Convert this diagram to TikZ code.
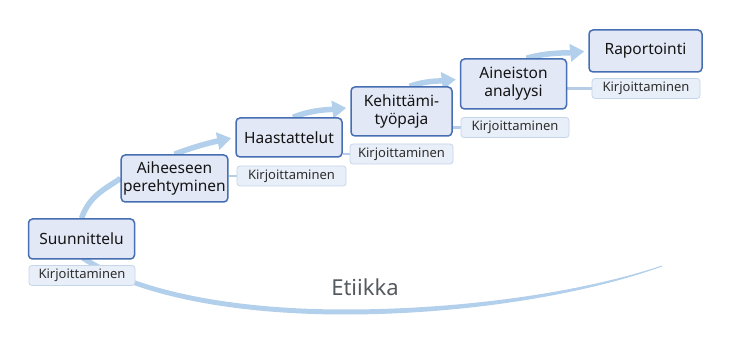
\documentclass[tikz,border=0pt]{standalone}
\usepackage{fontspec}
\setmainfont{Noto Sans}
\usetikzlibrary{arrows.meta,backgrounds}
\definecolor{boxfill}{RGB}{226,232,245}
\definecolor{boxline}{RGB}{70,110,178}
\definecolor{tagfill}{RGB}{233,239,248}
\definecolor{tagline}{RGB}{197,213,234}
\definecolor{linkcol}{RGB}{182,204,231}
\definecolor{flow}{RGB}{178,207,235}
\definecolor{ethic}{RGB}{85,90,96}

\begin{document}
\begin{tikzpicture}[x=1pt,y=-1pt,
	phase/.style={draw=boxline, fill=boxfill, line width=1.5pt, rounded corners=4pt, align=center, font=\fontsize{15.5}{18}\selectfont, text=black!92, inner sep=2pt, minimum width=106pt},
	writing/.style={draw=tagline, fill=tagfill, line width=0.8pt, rounded corners=3pt, font=\fontsize{13}{15}\selectfont, text=black!82, inner sep=1pt, minimum width=106pt, minimum height=20pt},
	flowline/.style={draw=flow, line width=5.5pt},
	flowarrow/.style={flowline, -{Triangle[length=14pt,width=17pt]}, shorten >=4pt},
	link/.style={draw=linkcol, line width=2.5pt}]
	\useasboundingbox (0,0) rectangle (731,339);
	% phases
	\node[phase, minimum height=40pt] (suun) at (81.5,239) {Suunnittelu};
	\node[phase, minimum height=47pt] (aihe) at (174.5,178.5) {Aiheeseen\\perehtyminen};
	\node[phase, minimum height=39pt] (haas) at (289,137.5) {Haastattelut};
	\node[phase, minimum height=49pt, minimum width=101pt] (kehi) at (401.5,111.5) {Kehittämi-\\työpaja};
	\node[phase, minimum height=50pt] (aine) at (513.5,84) {Aineiston\\analyysi};
	\node[phase, minimum height=42pt, minimum width=113pt] (rapo) at (645.5,51) {Raportointi};
	% writing tags
	\node[writing] (kir1) at (82,275.5) {Kirjoittaminen};
	\node[writing, minimum width=109pt] (kir2) at (291.5,176) {Kirjoittaminen};
	\node[writing, minimum width=103pt] (kir3) at (401.5,154) {Kirjoittaminen};
	\node[writing, minimum width=108pt] (kir4) at (515,127.5) {Kirjoittaminen};
	\node[writing, minimum width=108pt] (kir5) at (646,88.5) {Kirjoittaminen};
	% ethics
	\node[font=\fontsize{22}{26}\selectfont, text=ethic] (etii) at (365,287) {Etiikka};
	\begin{pgfonlayer}{background}
		% ethics arc
		\fill[flow] (85,256) .. controls (140,293) and (240,309.5) .. (345,309.5)
			.. controls (460,309.5) and (580,293) .. (662,265.5)
			-- (662,266.5) .. controls (580,296) and (460,314.5) .. (345,314.5)
			.. controls (240,314.5) and (140,298) .. (81,260) -- cycle;
		% flow between phases
		\draw[flowline] (suun.north) .. controls +(8,-22) and +(-18,12) .. (aihe.west);
		\draw[flowarrow] (aihe.north) .. controls +(20,-8) and +(-20,4) .. (haas.west);
		\draw[flowarrow] ([xshift=4pt]haas.north) .. controls +(20,-8) and +(-18,2) .. ([yshift=4pt]kehi.west);
		\draw[flowarrow] ([xshift=8pt]kehi.north) .. controls +(18,-6) and +(-18,2) .. ([yshift=5pt]aine.west);
		\draw[flowarrow] ([xshift=13pt]aine.north) .. controls +(20,-6) and +(-20,2) .. (rapo.west);
		% links to the writing tags
		\draw[link] (kir2.west -| aihe.east) -- (kir2.west);
		\draw[link] (kir3.west -| haas.east) -- (kir3.west);
		\draw[link] (kir4.west -| kehi.east) -- (kir4.west);
		\draw[link] (kir5.west -| aine.east) -- (kir5.west);
	\end{pgfonlayer}
\end{tikzpicture}
\end{document}
